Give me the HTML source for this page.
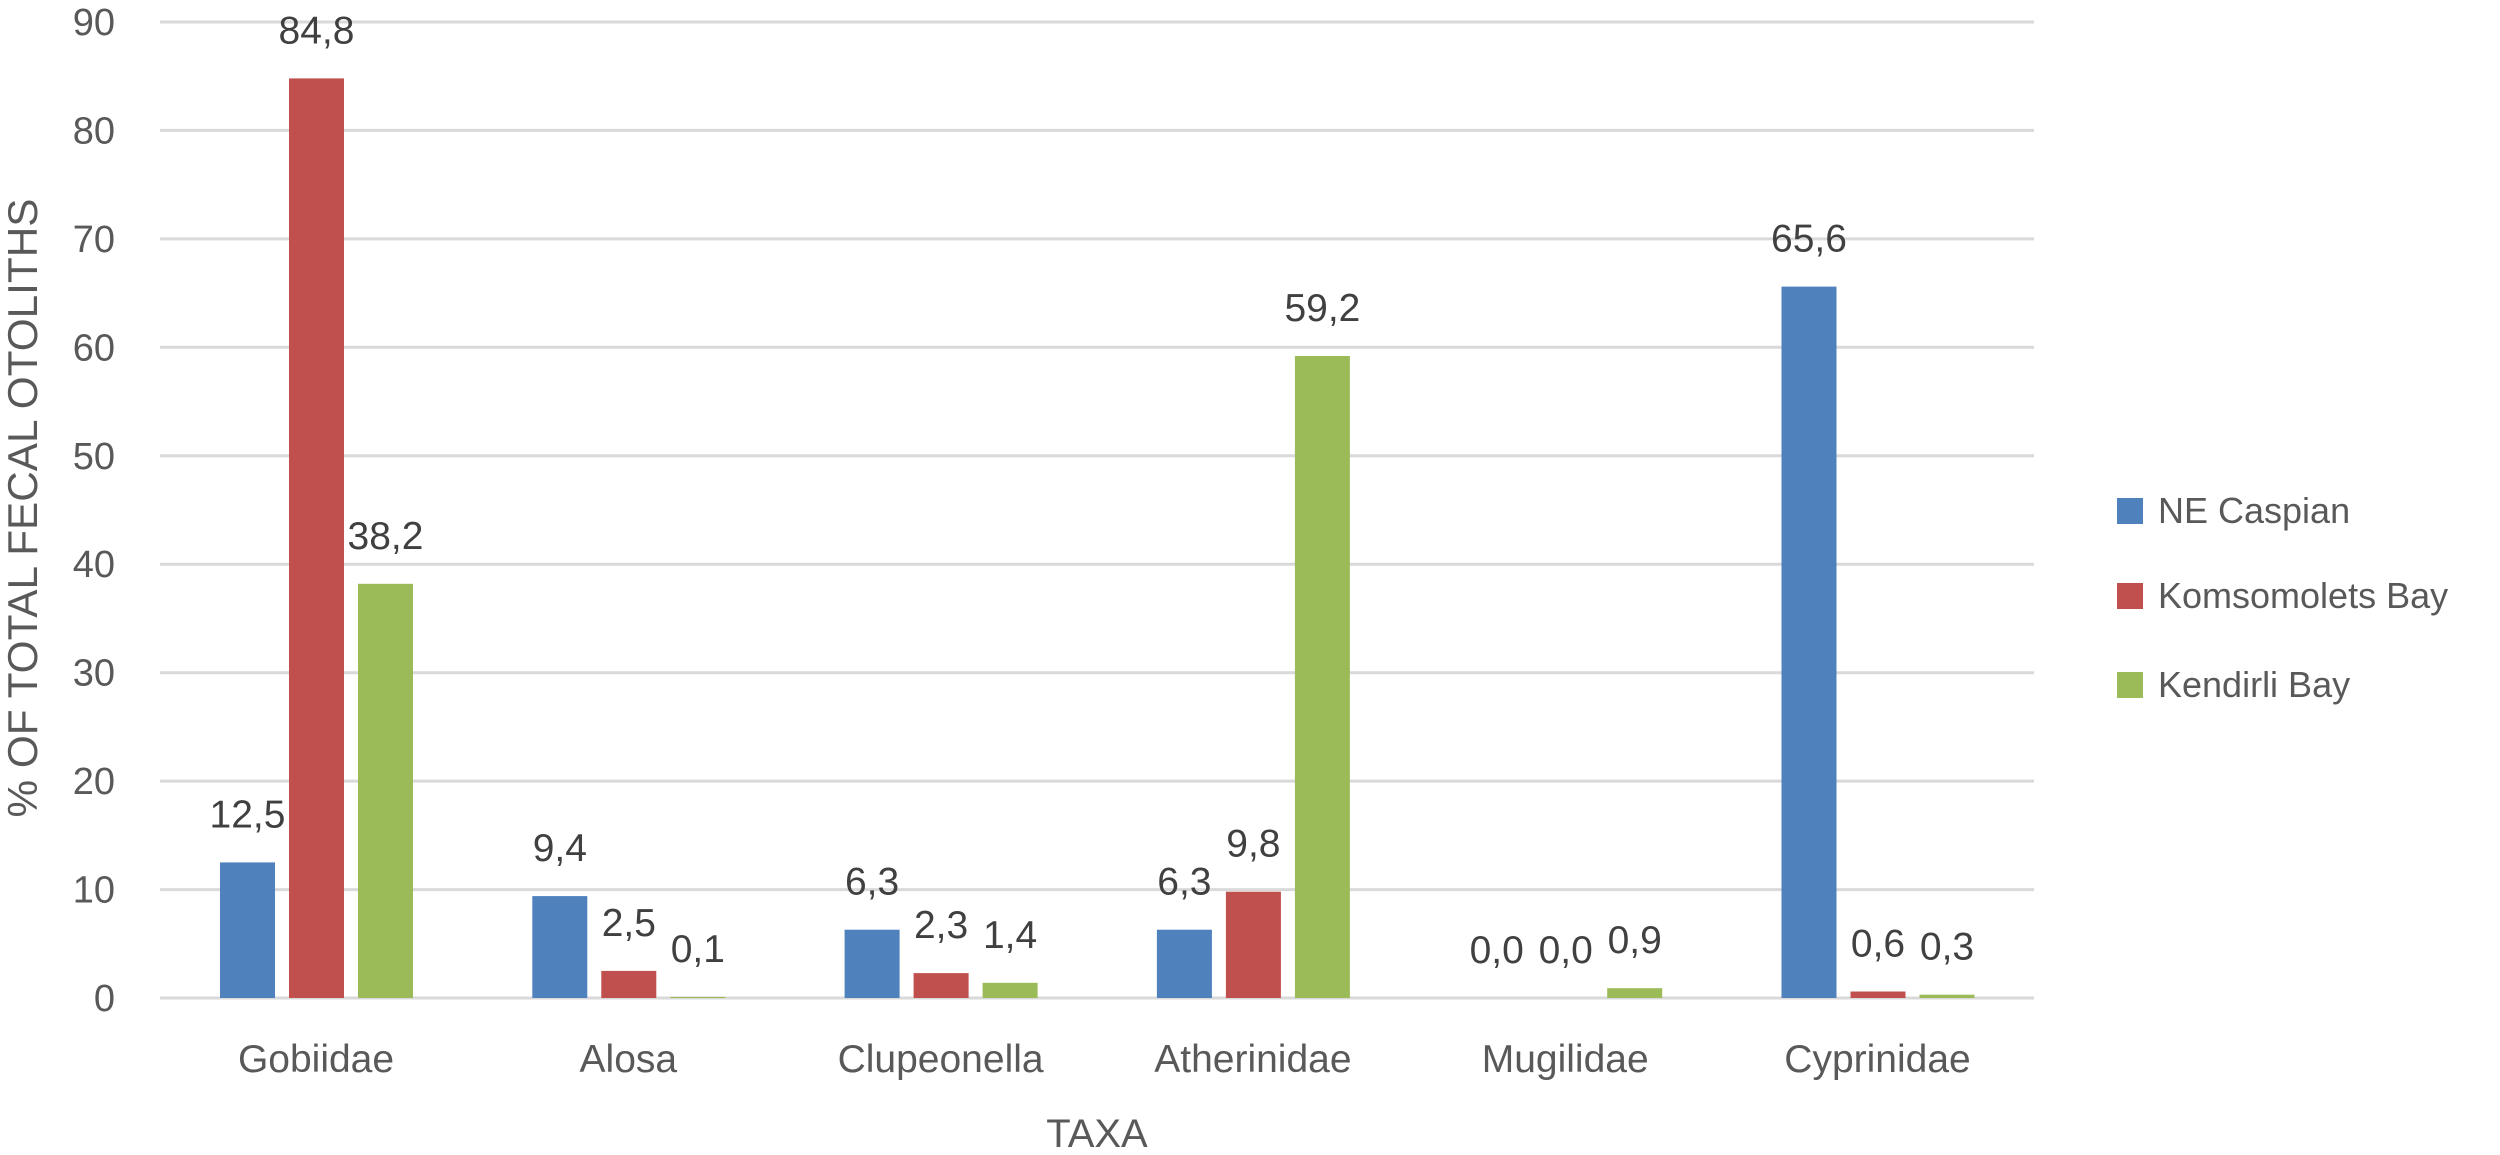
<!DOCTYPE html>
<html><head><meta charset="utf-8"><style>html,body{margin:0;padding:0;background:#fff}svg{display:block}</style></head><body>
<svg width="2500" height="1155" viewBox="0 0 2500 1155" xmlns="http://www.w3.org/2000/svg" font-family="Liberation Sans, sans-serif">
<g stroke="#d9d9d9" stroke-width="3">
<line x1="160" x2="2034" y1="22" y2="22"/><line x1="160" x2="2034" y1="130.4" y2="130.4"/><line x1="160" x2="2034" y1="238.9" y2="238.9"/><line x1="160" x2="2034" y1="347.3" y2="347.3"/><line x1="160" x2="2034" y1="455.8" y2="455.8"/><line x1="160" x2="2034" y1="564.2" y2="564.2"/><line x1="160" x2="2034" y1="672.7" y2="672.7"/><line x1="160" x2="2034" y1="781.1" y2="781.1"/><line x1="160" x2="2034" y1="889.6" y2="889.6"/><line x1="160" x2="2034" y1="998" y2="998"/>
</g>
<g fill="#595959" font-size="38" text-anchor="end">
<text x="115" y="35">90</text><text x="115" y="143.4">80</text><text x="115" y="251.9">70</text><text x="115" y="360.3">60</text><text x="115" y="468.8">50</text><text x="115" y="577.2">40</text><text x="115" y="685.7">30</text><text x="115" y="794.1">20</text><text x="115" y="902.6">10</text><text x="115" y="1011">0</text>
</g>
<text transform="translate(37,508) rotate(-90)" text-anchor="middle" fill="#595959" font-size="42" textLength="619" lengthAdjust="spacingAndGlyphs">% OF TOTAL FECAL OTOLITHS</text>
<g fill="#4f81bd">
<rect x="220" y="862.4" width="55" height="135.6"/><rect x="532.3" y="896.1" width="55" height="101.9"/><rect x="844.6" y="929.7" width="55" height="68.3"/><rect x="1156.9" y="929.7" width="55" height="68.3"/><rect x="1781.5" y="286.6" width="55" height="711.4"/>
</g>
<g fill="#c0504d">
<rect x="289" y="78.4" width="55" height="919.6"/><rect x="601.3" y="970.9" width="55" height="27.1"/><rect x="913.6" y="973.1" width="55" height="24.9"/><rect x="1225.9" y="891.7" width="55" height="106.3"/><rect x="1850.5" y="991.5" width="55" height="6.5"/>
</g>
<g fill="#9bbb59">
<rect x="358" y="583.8" width="55" height="414.2"/><rect x="670.3" y="996.9" width="55" height="1.1"/><rect x="982.6" y="982.8" width="55" height="15.2"/><rect x="1294.9" y="356" width="55" height="642"/><rect x="1607.2" y="988.2" width="55" height="9.8"/><rect x="1919.5" y="994.7" width="55" height="3.3"/>
</g>
<g fill="#404040" font-size="39" text-anchor="middle">
<text x="247.5" y="827.4">12,5</text><text x="316.5" y="43.4">84,8</text><text x="385.5" y="548.8">38,2</text>
<text x="559.8" y="861.1">9,4</text><text x="628.8" y="935.9">2,5</text><text x="697.8" y="961.9">0,1</text>
<text x="872.1" y="894.7">6,3</text><text x="941.1" y="938.1">2,3</text><text x="1010.1" y="947.8">1,4</text>
<text x="1184.4" y="894.7">6,3</text><text x="1253.4" y="856.7">9,8</text><text x="1322.4" y="321">59,2</text>
<text x="1496.7" y="963">0,0</text><text x="1565.7" y="963">0,0</text><text x="1634.7" y="953.2">0,9</text>
<text x="1809" y="251.6">65,6</text><text x="1878" y="956.5">0,6</text><text x="1947" y="959.7">0,3</text>
</g>
<g fill="#595959" font-size="39" text-anchor="middle">
<text x="316" y="1072">Gobiidae</text><text x="628.3" y="1072">Alosa</text><text x="940.6" y="1072">Clupeonella</text><text x="1252.9" y="1072">Atherinidae</text><text x="1565.2" y="1072">Mugilidae</text><text x="1877.5" y="1072">Cyprinidae</text>
<text x="1097" y="1147" font-size="40">TAXA</text>
</g>
<rect x="2117" y="498" width="26" height="26" fill="#4f81bd"/>
<rect x="2117" y="583" width="26" height="26" fill="#c0504d"/>
<rect x="2117" y="672" width="26" height="26" fill="#9bbb59"/>
<g fill="#595959" font-size="36">
<text x="2158" y="523">NE Caspian</text><text x="2158" y="608">Komsomolets Bay</text><text x="2158" y="697">Kendirli Bay</text>
</g>
</svg>
</body></html>
